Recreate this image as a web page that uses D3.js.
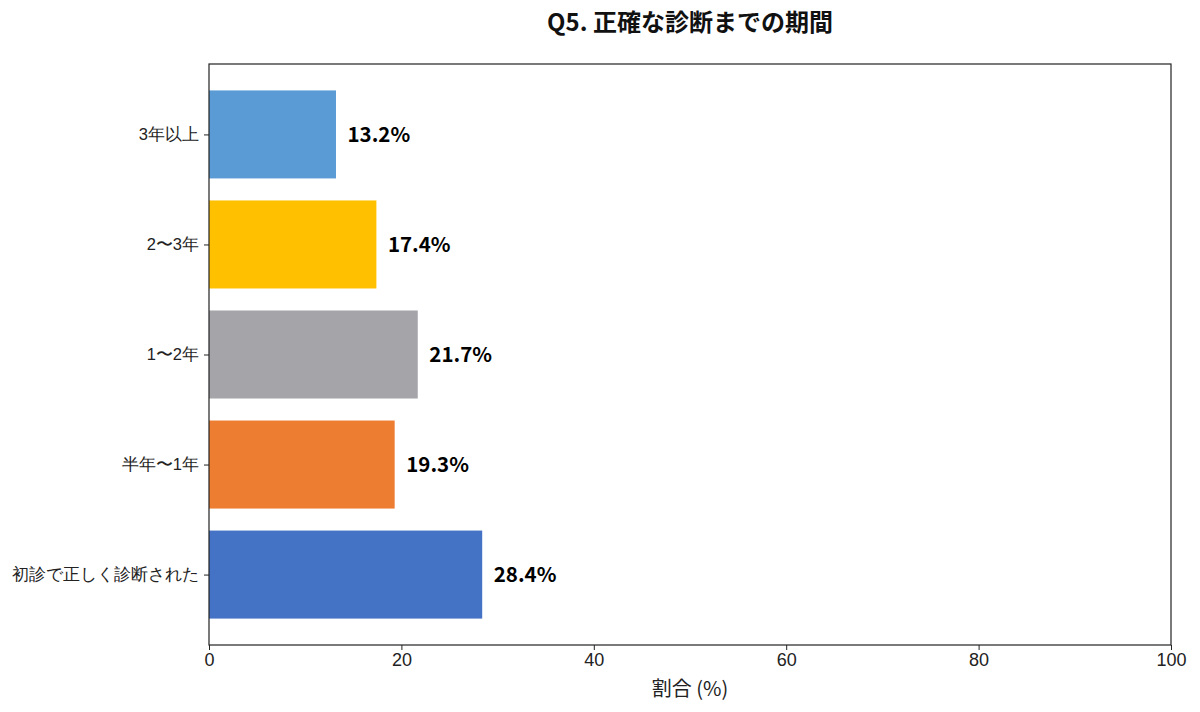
<!DOCTYPE html>
<html>
<head>
<meta charset="utf-8">
<script src="https://cdn.jsdelivr.net/npm/d3@7"></script>
<style>
  body { margin: 0; background: #fff; }
  svg { font-family: "Noto Sans CJK JP", "Noto Sans", sans-serif; }
</style>
</head>
<body>
<svg id="chart" width="1200" height="712"></svg>
<script>
// bottom to top, as drawn
const categories = ['初診で正しく診断された', '半年〜1年', '1〜2年', '2〜3年', '3年以上'];
const values = [28.4, 19.3, 21.7, 17.4, 13.2];
const colors = ['#4472C4', '#ED7D31', '#A5A4A9', '#FFC000', '#5B9BD5'];
const xTicks = [0, 20, 40, 60, 80, 100];

const LEFT = 209, RIGHT = 1171, TOP = 64, BOTTOM = 645;
const BAR_H = 0.8;

const svg = d3.select('#chart');

const x = d3.scaleLinear().domain([0, 100]).range([LEFT, RIGHT]);
// matplotlib-like margins around bars
const span = (categories.length - 1) + BAR_H;
const pad = span * 0.05;
const y = d3.scaleLinear()
  .domain([-BAR_H / 2 - pad, categories.length - 1 + BAR_H / 2 + pad])
  .range([BOTTOM, TOP]);

const data = categories.map((c, i) => ({ cat: c, value: values[i], color: colors[i], i: i }));

svg.selectAll('rect.bar')
  .data(data)
  .enter()
  .append('rect')
  .classed('bar', true)
  .attr('x', x(0))
  .attr('y', d => y(d.i + BAR_H / 2))
  .attr('width', d => x(d.value) - x(0))
  .attr('height', d => y(d.i - BAR_H / 2) - y(d.i + BAR_H / 2))
  .style('fill', d => d.color);

svg.selectAll('text.val')
  .data(data)
  .enter()
  .append('text')
  .classed('val', true)
  .attr('x', d => x(d.value + 1.2))
  .attr('y', d => y(d.i))
  .attr('dy', '0.35em')
  .style('font-size', '20.5px')
  .style('font-weight', 'bold')
  .style('fill', '#000')
  .text(d => d.value.toFixed(1) + '%');

// frame
svg.append('rect')
  .attr('x', LEFT)
  .attr('y', TOP)
  .attr('width', RIGHT - LEFT)
  .attr('height', BOTTOM - TOP)
  .style('fill', 'none')
  .style('stroke', '#222')
  .style('stroke-width', 1.2);

const xAxis = svg.append('g')
  .attr('transform', 'translate(0,' + BOTTOM + ')')
  .call(d3.axisBottom(x).tickValues(xTicks).tickSize(5).tickPadding(3));
xAxis.select('.domain').remove();
xAxis.selectAll('text').style('font-size', '18px').style('fill', '#222');
xAxis.selectAll('line').style('stroke', '#222');

const yAxis = svg.append('g')
  .attr('transform', 'translate(' + LEFT + ',0)')
  .call(d3.axisLeft(y).tickValues(d3.range(categories.length))
    .tickFormat(i => categories[i]).tickSize(5).tickPadding(5));
yAxis.select('.domain').remove();
yAxis.selectAll('text').style('font-size', '16.5px').style('fill', '#222');
yAxis.selectAll('line').style('stroke', '#222');

svg.append('text')
  .attr('x', (LEFT + RIGHT) / 2)
  .attr('y', 696)
  .attr('text-anchor', 'middle')
  .style('font-size', '20px')
  .style('fill', '#222')
  .text('割合 (%)');

svg.append('text')
  .attr('x', (LEFT + RIGHT) / 2)
  .attr('y', 31)
  .attr('text-anchor', 'middle')
  .style('font-size', '24px')
  .style('font-weight', 'bold')
  .style('fill', '#111')
  .text('Q5. 正確な診断までの期間');
</script>
</body>
</html>
